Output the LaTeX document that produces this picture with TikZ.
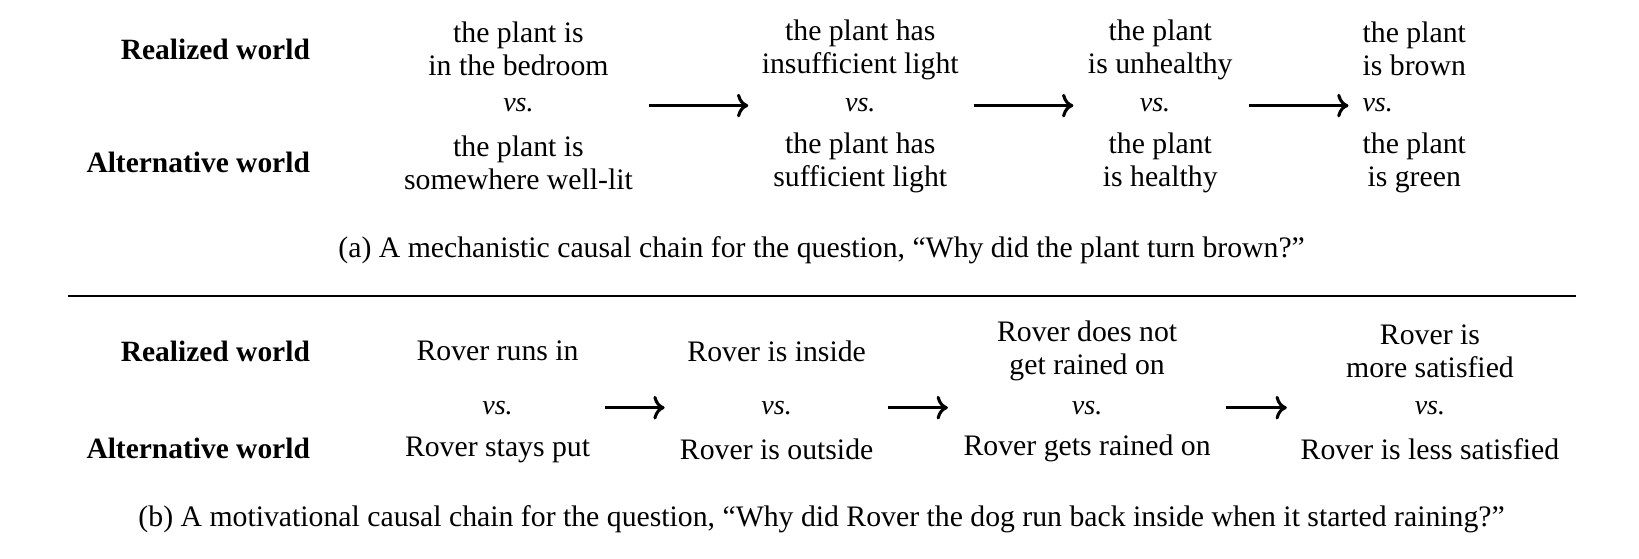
\documentclass[tikz,border=0pt]{standalone}
\usepackage{fontspec}
\setmainfont{Liberation Serif}
\usetikzlibrary{positioning}
\usetikzlibrary{arrows.meta}
\tikzset{
    worldnode/.style = {anchor=east, inner sep=0pt, font=\fontsize{10.5}{12}\selectfont\bfseries},
    statenode/.style = {align=center, inner sep=0pt},
    vsnode/.style = {inner sep=0pt, font=\itshape},
    capnode/.style = {inner sep=0pt},
    edgec/.style = {->, line width=1.1pt, black},
    edgerule/.style = {-, line width=0.6pt, black},
}
\begin{document}
\begin{tikzpicture}[x=0.3725pt, y=-0.3725pt, font=\fontsize{10.6}{11.7}\selectfont]
\useasboundingbox (0, 0) rectangle (1568, 534);
% (a) plant
\node[worldnode] at (297, 47) (ra) {Realized world};
\node[worldnode] at (297, 155) (aa) {Alternative world};
\node[statenode] at (496, 47) (pr1) {the plant is\\in the bedroom};
\node[vsnode] at (496, 101) (pv1) {vs.};
\node[statenode] at (496, 156) (pa1) {the plant is\\somewhere well-lit};
\node[statenode] at (823, 48) (pr2) {the plant has\\insufficient light};
\node[vsnode] at (823, 101) (pv2) {vs.};
\node[statenode] at (823, 156) (pa2) {the plant has\\sufficient light};
\node[statenode] at (1110, 48) (pr3) {the plant\\is unhealthy};
\node[vsnode] at (1105, 101) (pv3) {vs.};
\node[statenode] at (1110, 156) (pa3) {the plant\\is healthy};
\node[statenode] at (1353, 47) (pr4) {the plant\\is brown};
\node[vsnode] at (1318, 101) (pv4) {vs.};
\node[statenode] at (1353, 156) (pa4) {the plant\\is green};
%
\draw[edgec] (pv1) edge[shorten <=41pt, shorten >=34.3pt] (pv2);
\draw[edgec] (pv2) edge[shorten <=35pt, shorten >=23.5pt] (pv3);
\draw[edgec] (pv3) edge[shorten <=27.9pt, shorten >=4.8pt] (pv4);
%
\node[capnode] at (786, 239) (capa) {(a) A mechanistic causal chain for the question, ``Why did the plant turn brown?''};
\coordinate (rulel) at (65, 283);
\coordinate (ruler) at (1508, 283);
\draw[edgerule] (rulel) -- (ruler);
% (b) Rover
\node[worldnode] at (297, 336) (rb) {Realized world};
\node[worldnode] at (297, 429) (ab) {Alternative world};
\node[statenode] at (476, 336) (dr1) {Rover runs in};
\node[vsnode] at (476, 390) (dv1) {vs.};
\node[statenode] at (476, 430) (da1) {Rover stays put};
\node[statenode] at (743, 336) (dr2) {Rover is inside};
\node[vsnode] at (743, 390) (dv2) {vs.};
\node[statenode] at (743, 430) (da2) {Rover is outside};
\node[statenode] at (1040, 336) (dr3) {Rover does not\\get rained on};
\node[vsnode] at (1040, 390) (dv3) {vs.};
\node[statenode] at (1040, 429) (da3) {Rover gets rained on};
\node[statenode] at (1368, 336) (dr4) {Rover is\\more satisfied};
\node[vsnode] at (1368, 390) (dv4) {vs.};
\node[statenode] at (1368, 430) (da4) {Rover is less satisfied};
%
\draw[edgec] (dv1) edge[shorten <=32.8pt, shorten >=34.3pt] (dv2);
\draw[edgec] (dv2) edge[shorten <=33.9pt, shorten >=44pt] (dv3);
\draw[edgec] (dv3) edge[shorten <=44pt, shorten >=45.4pt] (dv4);
%
\node[capnode] at (786, 497) (capb) {(b) A motivational causal chain for the question, ``Why did Rover the dog run back inside when it started raining?''};
\end{tikzpicture}
\end{document}
